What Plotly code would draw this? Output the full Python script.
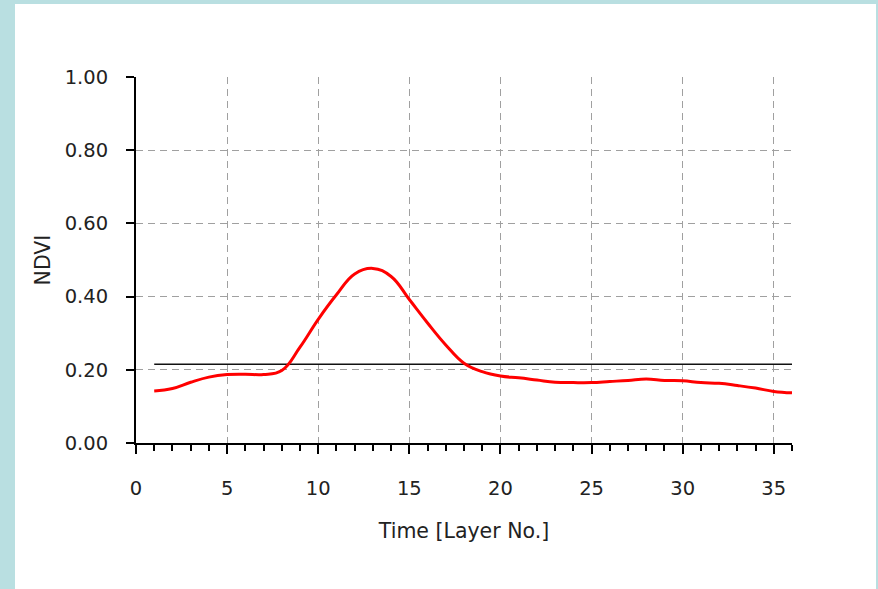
import plotly.graph_objects as go

layers = list(range(1, 37))
ndvi = [0.142, 0.149, 0.166, 0.180, 0.187, 0.188, 0.187, 0.198, 0.262, 0.338,
        0.405, 0.462, 0.477, 0.455, 0.392, 0.328, 0.268, 0.218, 0.195, 0.183,
        0.178, 0.172, 0.166, 0.165, 0.165, 0.168, 0.171, 0.175, 0.171, 0.170,
        0.165, 0.163, 0.157, 0.150, 0.141, 0.137]
threshold_x = [1, 36]
threshold_y = [0.215, 0.215]
x_ticks = [0, 5, 10, 15, 20, 25, 30, 35]
y_ticks = [0.0, 0.2, 0.4, 0.6, 0.8, 1.0]

W, H = 878, 589
ml, mr, mt, mb = 136, 86, 77, 146
pw, ph = W - ml - mr, H - mt - mb

fig = go.Figure()
fig.add_trace(go.Scatter(x=threshold_x, y=threshold_y, mode="lines",
                         line=dict(color="#111111", width=1.5), showlegend=False))
fig.add_trace(go.Scatter(x=layers, y=ndvi, mode="lines",
                         line=dict(color="#ff0000", width=3, shape="spline", smoothing=1.2),
                         showlegend=False))

# white panel on light-blue page
fig.add_shape(type="rect", xref="paper", yref="paper", layer="below",
              x0=(15 - ml) / pw, x1=(876 - ml) / pw,
              y0=-1, y1=(mt + ph - 4) / ph,
              fillcolor="white", line=dict(width=0))

font = dict(family="DejaVu Sans", size=19.5, color="#222222")
grid = dict(showgrid=True, gridcolor="#a0a0a0", gridwidth=1.2, griddash="7px,5px")

fig.update_xaxes(range=[0, 36], tickvals=x_ticks, ticktext=[str(v) for v in x_ticks],
                 showline=True, linecolor="black", linewidth=2,
                 ticks="outside", ticklen=9, tickwidth=2, tickcolor="black",
                 minor=dict(dtick=1, tick0=0, ticks="outside", ticklen=6, tickwidth=2,
                            tickcolor="black", showgrid=False),
                 tickfont=font, ticklabelstandoff=18,
                 title=dict(text="Time [Layer No.]", font=dict(family="DejaVu Sans", size=20.5, color="#222222"),
                            standoff=24),
                 zeroline=False, **grid)
fig.update_yaxes(range=[0, 1], tickvals=y_ticks, tickformat=".2f",
                 showline=True, linecolor="black", linewidth=2,
                 ticks="outside", ticklen=8, tickwidth=2, tickcolor="black",
                 tickfont=font, ticklabelstandoff=14,
                 title=dict(text="NDVI", font=dict(family="DejaVu Sans", size=20.5, color="#222222"),
                            standoff=9),
                 zeroline=False, **grid)

fig.update_layout(width=W, height=H, margin=dict(l=ml, r=mr, t=mt, b=mb),
                  paper_bgcolor="#b9dfe1", plot_bgcolor="white", showlegend=False)

fig.write_html("out.html")
